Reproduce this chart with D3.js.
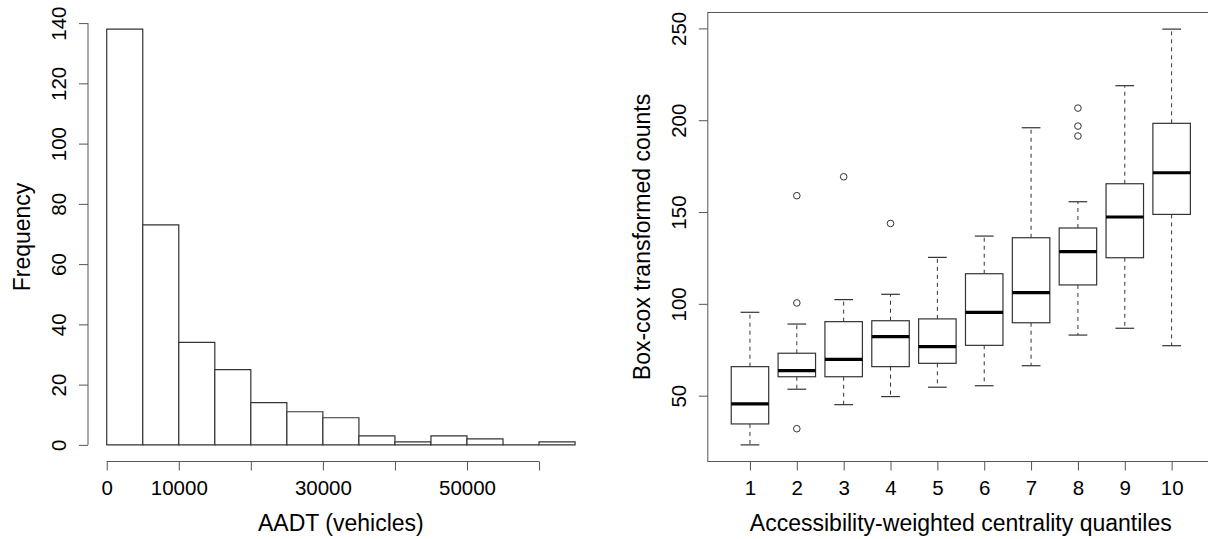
<!DOCTYPE html>
<html>
<head>
<meta charset="utf-8">
<script src="https://cdn.jsdelivr.net/npm/d3@7"></script>
<style>
  body { margin: 0; background: #fff; }
  svg { display: block; font-family: "Liberation Sans", Arial, sans-serif; }
  .axis path, .axis line { stroke: #555; }
</style>
</head>
<body>
<svg id="chart" width="1208" height="539"></svg>
<script>
// histogram of AADT
var histBreaks = [0, 5000, 10000, 15000, 20000, 25000, 30000, 35000, 40000, 45000, 50000, 55000, 60000, 65000];
var histCounts = [138, 73, 34, 25, 14, 11, 9, 3, 1, 3, 2, 0, 1];
var histXTicks = [0, 10000, 20000, 30000, 40000, 50000, 60000];
var histXLabels = ["0", "10000", "", "30000", "", "50000", ""];
var histYTicks = [0, 20, 40, 60, 80, 100, 120, 140];

// boxplot by quantile
var quantiles = [1, 2, 3, 4, 5, 6, 7, 8, 9, 10];
var whiskerLow = [23.2, 53.5, 45.1, 49.5, 54.6, 55.4, 66.3, 83.0, 86.7, 77.2];
var q1 = [34.6, 60.3, 60.3, 65.8, 67.6, 77.4, 89.7, 110.3, 125.1, 148.7];
var medians = [45.5, 63.6, 69.8, 82.1, 76.7, 95.4, 106.1, 128.4, 147.3, 171.4];
var q3 = [65.8, 73.1, 90.3, 90.8, 91.8, 116.4, 136.0, 141.3, 165.4, 198.3];
var whiskerHigh = [95.4, 89.0, 102.3, 105.2, 125.3, 136.9, 195.9, 155.6, 218.8, 249.6];
var outliers = [[], [158.9, 100.5, 32.0], [169.2], [143.8], [], [], [], [206.6, 196.8, 191.4], [], []];
var boxYTicks = [50, 100, 150, 200, 250];

var svg = d3.select("#chart");
var tickFont = 20.5, titleFont = 23;
var plotTop = 12.5, plotBottom = 461.5;

// ---------- left panel ----------
var hx = d3.scaleLinear()
    .domain([-2600, 67600])
    .range([88, 593.8]);
var hy = d3.scaleLinear()
    .domain([-5.52, 143.52])
    .range([plotBottom, plotTop]);

var left = svg.append("g");

// drawn as paths so an empty bin still shows its baseline
left.selectAll("path.bar")
    .data(histCounts)
    .enter().append("path")
    .attr("class", "bar")
    .attr("d", function(d, i) {
      var x0 = hx(histBreaks[i]), x1 = hx(histBreaks[i + 1]);
      return "M" + x0 + "," + hy(0) + "V" + hy(d) + "H" + x1 + "V" + hy(0) + "Z";
    })
    .style("fill", "#fff")
    .style("stroke", "#333")
    .style("stroke-width", 1.2);

var hxAxis = left.append("g")
    .attr("class", "axis")
    .attr("transform", "translate(0," + plotBottom + ")")
    .call(d3.axisBottom(hx).tickValues(histXTicks).tickSize(9).tickSizeOuter(0)
      .tickFormat(function(d, i) { return histXLabels[i]; }));
hxAxis.select(".domain").attr("d", "M" + hx(0) + ",0H" + hx(60000));

var hyAxis = left.append("g")
    .attr("class", "axis")
    .attr("transform", "translate(" + hx.range()[0] + ",0)")
    .call(d3.axisLeft(hy).tickValues(histYTicks).tickSize(9).tickSizeOuter(0));
hyAxis.select(".domain").attr("d", "M0," + hy(0) + "V" + hy(140));

left.append("text")
    .attr("x", (hx.range()[0] + hx.range()[1]) / 2)
    .attr("y", 531)
    .attr("text-anchor", "middle")
    .style("font-size", titleFont + "px")
    .text("AADT (vehicles)");

left.append("text")
    .attr("transform", "translate(29.5," + (plotTop + plotBottom) / 2 + ") rotate(-90)")
    .attr("text-anchor", "middle")
    .style("font-size", titleFont + "px")
    .text("Frequency");

// ---------- right panel ----------
var lo = d3.min(whiskerLow.concat(d3.merge(outliers)));
var hi = d3.max(whiskerHigh.concat(d3.merge(outliers)));
var pad = (hi - lo) * 0.04;

var bx = d3.scaleLinear()
    .domain([0.1, 10.9])
    .range([707.8, 1213.8]);
var by = d3.scaleLinear()
    .domain([lo - pad, hi + pad])
    .range([plotBottom, plotTop]);
var boxW = bx(0.4) - bx(0), capW = bx(0.2) - bx(0);

var right = svg.append("g");

right.append("rect")
    .attr("x", bx.range()[0])
    .attr("y", plotTop)
    .attr("width", bx.range()[1] - bx.range()[0])
    .attr("height", plotBottom - plotTop)
    .style("fill", "none")
    .style("stroke", "#555");

var boxes = right.selectAll("g.box")
    .data(quantiles)
    .enter().append("g")
    .attr("class", "box");

// whiskers
boxes.append("line")
    .attr("x1", function(d) { return bx(d); })
    .attr("x2", function(d) { return bx(d); })
    .attr("y1", function(d, i) { return by(q3[i]); })
    .attr("y2", function(d, i) { return by(whiskerHigh[i]); })
    .style("stroke", "#333").style("stroke-dasharray", "4,4");
boxes.append("line")
    .attr("x1", function(d) { return bx(d); })
    .attr("x2", function(d) { return bx(d); })
    .attr("y1", function(d, i) { return by(q1[i]); })
    .attr("y2", function(d, i) { return by(whiskerLow[i]); })
    .style("stroke", "#333").style("stroke-dasharray", "4,4");

// staples
[whiskerHigh, whiskerLow].forEach(function(arr) {
  boxes.append("line")
      .attr("x1", function(d) { return bx(d) - capW; })
      .attr("x2", function(d) { return bx(d) + capW; })
      .attr("y1", function(d, i) { return by(arr[i]); })
      .attr("y2", function(d, i) { return by(arr[i]); })
      .style("stroke", "#333").style("stroke-width", 1.2);
});

boxes.append("rect")
    .attr("x", function(d) { return bx(d) - boxW; })
    .attr("y", function(d, i) { return by(q3[i]); })
    .attr("width", boxW * 2)
    .attr("height", function(d, i) { return by(q1[i]) - by(q3[i]); })
    .style("fill", "#fff")
    .style("stroke", "#333")
    .style("stroke-width", 1.2);

boxes.append("line")
    .attr("x1", function(d) { return bx(d) - boxW; })
    .attr("x2", function(d) { return bx(d) + boxW; })
    .attr("y1", function(d, i) { return by(medians[i]); })
    .attr("y2", function(d, i) { return by(medians[i]); })
    .style("stroke", "#000")
    .style("stroke-width", 3.2);

boxes.selectAll("circle")
    .data(function(d, i) { return outliers[i].map(function(v) { return {q: d, v: v}; }); })
    .enter().append("circle")
    .attr("cx", function(p) { return bx(p.q); })
    .attr("cy", function(p) { return by(p.v); })
    .attr("r", 3.3)
    .style("fill", "none")
    .style("stroke", "#333");

right.append("g")
    .attr("class", "axis")
    .attr("transform", "translate(0," + plotBottom + ")")
    .call(d3.axisBottom(bx).tickValues(quantiles).tickSize(9).tickSizeOuter(0))
    .select(".domain").remove();

right.append("g")
    .attr("class", "axis")
    .attr("transform", "translate(" + bx.range()[0] + ",0)")
    .call(d3.axisLeft(by).tickValues(boxYTicks).tickSize(9).tickSizeOuter(0))
    .select(".domain").remove();

right.append("text")
    .attr("x", (bx(0.5) + bx(10.5)) / 2)
    .attr("y", 531)
    .attr("text-anchor", "middle")
    .style("font-size", titleFont + "px")
    .text("Accessibility-weighted centrality quantiles");

right.append("text")
    .attr("transform", "translate(650," + (plotTop + plotBottom) / 2 + ") rotate(-90)")
    .attr("text-anchor", "middle")
    .style("font-size", titleFont + "px")
    .text("Box-cox transformed counts");

// tick label styling, R-like: y labels parallel to the axis
svg.selectAll(".axis text")
    .style("font-size", tickFont + "px")
    .style("fill", "#000")
    .style("font-family", "'Liberation Sans', Arial, sans-serif");

svg.selectAll(".axis .tick text")
    .filter(function() { return d3.select(this.parentNode.parentNode).attr("transform").indexOf("translate(0,") !== 0; })
    .attr("x", 0)
    .attr("dy", 0)
    .attr("y", 0)
    .attr("text-anchor", "middle")
    .attr("transform", "translate(-22,0) rotate(-90)");

svg.selectAll(".axis .tick text")
    .filter(function() { return d3.select(this.parentNode.parentNode).attr("transform").indexOf("translate(0,") === 0; })
    .attr("dy", 0)
    .attr("y", 33);
</script>
</body>
</html>
